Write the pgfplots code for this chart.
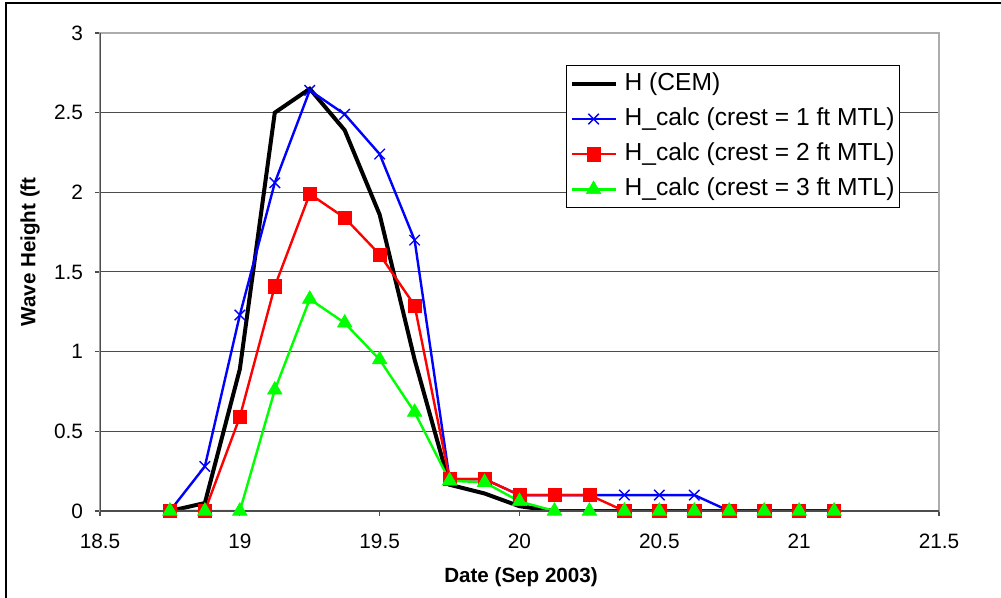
\documentclass[border=0pt]{standalone}
\usepackage{pgfplots}
\pgfplotsset{compat=1.18}
\usepackage{fontspec}
\setmainfont{Liberation Sans}
\pgfplotstableread{
x H c1 c2 c3
18.75 0 0 0 0
18.875 0.05 0.28 0 0
19.0 0.89 1.23 0.59 0
19.125 2.50 2.06 1.41 0.76
19.25 2.65 2.64 1.99 1.33
19.375 2.39 2.49 1.84 1.18
19.5 1.86 2.24 1.61 0.95
19.625 0.95 1.70 1.29 0.62
19.75 0.165 0.20 0.20 0.19
19.875 0.11 0.20 0.20 0.18
20.0 0.03 0.10 0.10 0.06
20.125 0 0.10 0.10 0
20.25 0 0.10 0.10 0
20.375 0 0.10 0 0
20.5 0 0.10 0 0
20.625 0 0.10 0 0
20.75 0 0 0 0
20.875 0 0 0 0
21.0 0 0 0 0
21.125 0 0 0 0
}\datatable
\begin{document}
\begin{tikzpicture}
\useasboundingbox (-50bp,-43.5bp) rectangle (450.5bp,255.5bp);
\draw[line width=1bp] (-47bp,-50bp) -- (-47bp,254bp) -- (460bp,254bp);
\begin{axis}[
  at={(0,0)}, anchor=south west, scale only axis,
  width=419.5bp, height=239bp,
  xmin=18.5, xmax=21.5, ymin=0, ymax=3,
  xtick={18.5,19,19.5,20,20.5,21,21.5},
  ytick={0,0.5,1,1.5,2,2.5,3},
  /pgf/number format/assume math mode=true,
  tick label style={font=\fontsize{10.4bp}{12bp}\selectfont},
  xticklabel style={yshift=-5.5bp},
  yticklabel style={xshift=-2.5bp},
  tick pos=left, tick align=outside,
  major tick length=2.5bp,
  tick style={gray!60!black, line width=0.6bp},
  axis line style={gray!65, line width=0.9bp},
  ymajorgrids, grid style={gray!60!black, line width=0.5bp},
  xlabel={Date (Sep 2003)},
  ylabel={Wave Height (ft},
  label style={font=\bfseries\fontsize{10.3bp}{12bp}\selectfont},
  xlabel style={at={(axis description cs:0.5018,-0.138)}, anchor=center},
  ylabel style={at={(axis description cs:-0.0834,0.542)}, anchor=center},
  legend style={at={(axis description cs:0.5554,0.933)}, anchor=north west,
    draw=black, line width=0.6bp, fill=white,
    font=\fontsize{12.3bp}{14bp}\selectfont,
    nodes={inner sep=1bp, text height=9.2bp, text depth=3bp},
    row sep=3.4bp, inner xsep=1.5bp, inner ysep=2bp},
  legend cell align=left,
  legend image code/.code={\draw[mark repeat=2,mark phase=2,#1] plot coordinates {(0bp,0bp)(11bp,0bp)(22bp,0bp)}; \path (24.5bp,0bp);},
]
\addplot[black, line width=2bp, mark=none] table[x=x,y=H] {\datatable};
\addlegendentry{H (CEM)}
\addplot[blue, line width=1.2bp, mark=x, mark size=3.7bp, mark options={line width=0.7bp}] table[x=x,y=c1] {\datatable};
\addlegendentry{H\_calc (crest = 1 ft MTL)}
\addplot[red, line width=1.2bp, mark=square*, mark size=3.3bp, mark options={line width=0.3bp}] table[x=x,y=c2] {\datatable};
\addlegendentry{H\_calc (crest = 2 ft MTL)}
\addplot[green, line width=1.2bp, mark=triangle*, mark size=4.2bp, mark options={line width=0.3bp}] table[x=x,y=c3] {\datatable};
\addlegendentry{H\_calc (crest = 3 ft MTL)}
\draw[gray!60!black, line width=0.9bp] (rel axis cs:0,1) -- (rel axis cs:0,0) -- (rel axis cs:1,0);
\end{axis}
\end{tikzpicture}
\end{document}
